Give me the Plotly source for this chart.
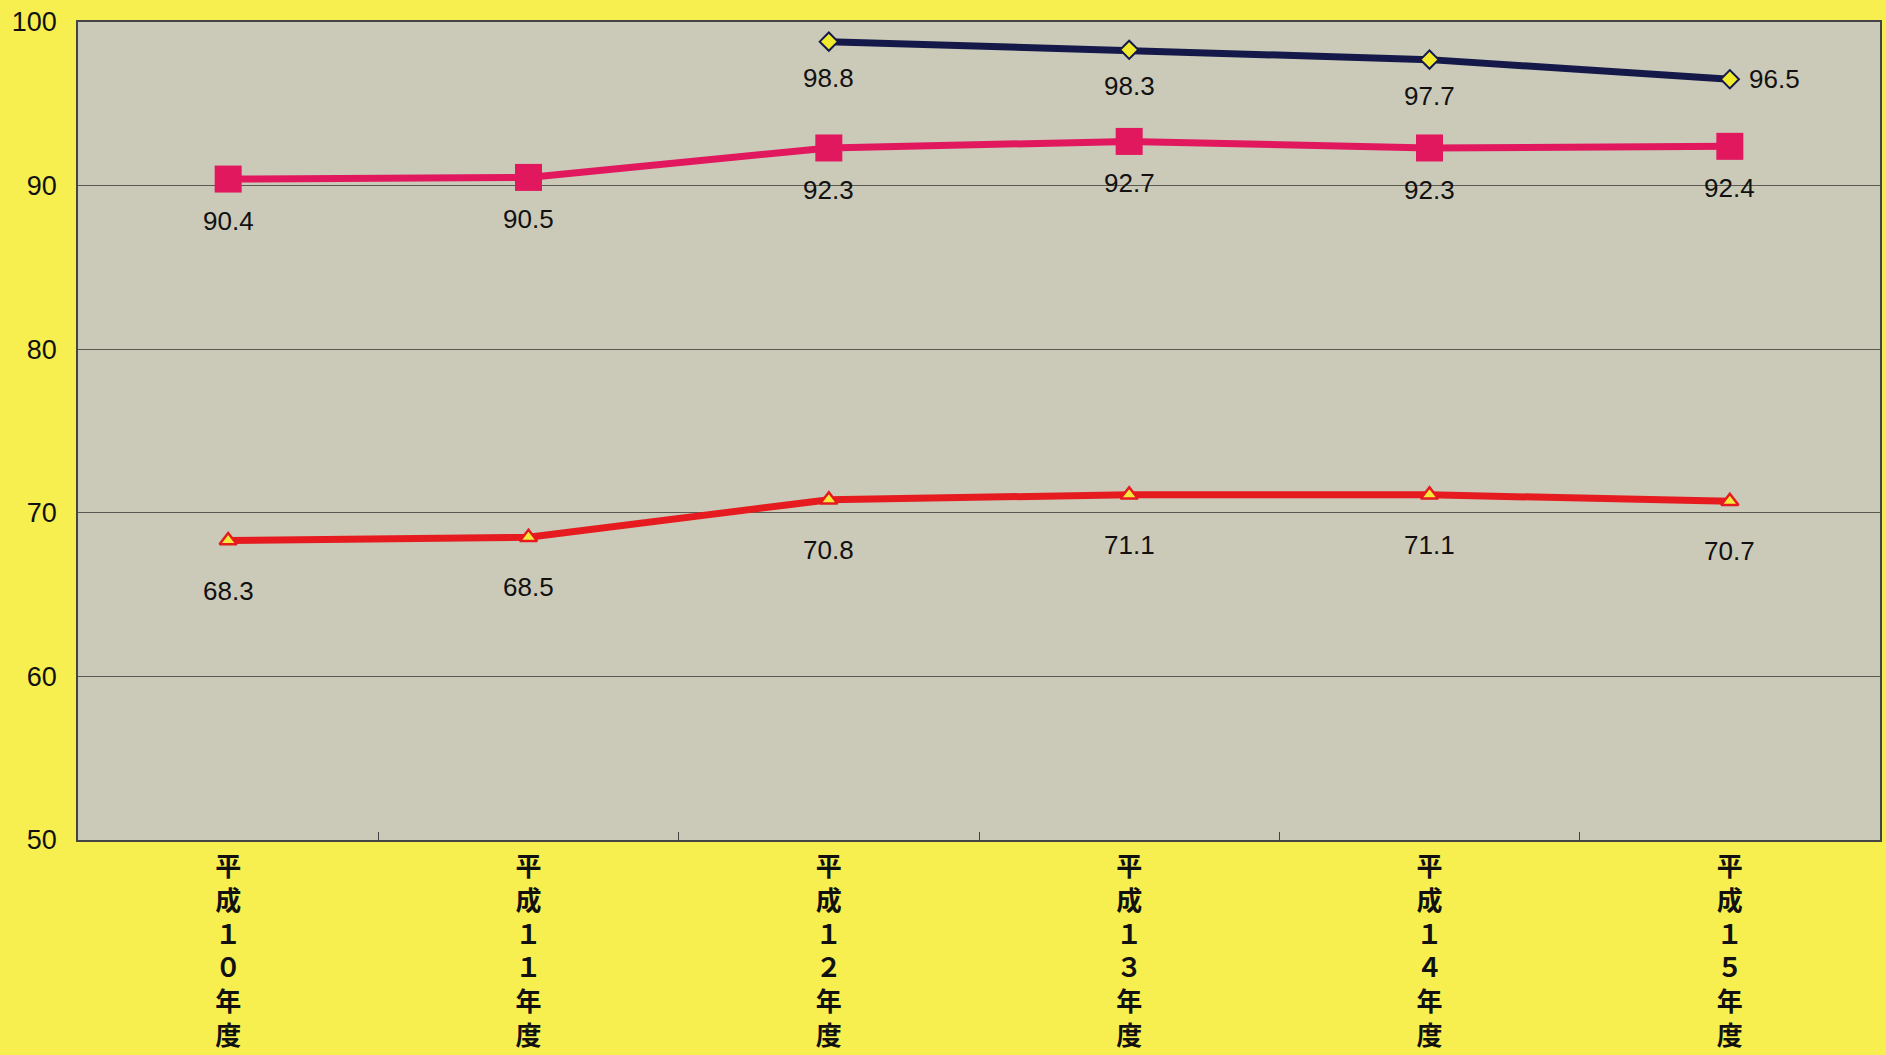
import plotly.graph_objects as go

categories = ["平成１０年度", "平成１１年度", "平成１２年度", "平成１３年度", "平成１４年度", "平成１５年度"]
navy_values = [None, None, 98.8, 98.3, 97.7, 96.5]
pink_values = [90.4, 90.5, 92.3, 92.7, 92.3, 92.4]
red_values = [68.3, 68.5, 70.8, 71.1, 71.1, 70.7]
y_ticks = [50, 60, 70, 80, 90, 100]

tick_text = ["<br>".join(list(c)) for c in categories]

fig = go.Figure()

fig.add_trace(go.Scatter(
    x=categories, y=red_values, mode="lines+markers",
    line=dict(color="#e51b1f", width=7),
    marker=dict(symbol="triangle-up", size=15, color="#f6e93a",
                line=dict(color="#e51b1f", width=2.5)),
    showlegend=False, hoverinfo="skip"))
fig.add_trace(go.Scatter(
    x=categories, y=pink_values, mode="lines+markers",
    line=dict(color="#e2185f", width=7),
    marker=dict(symbol="square", size=27, color="#e2185f"),
    showlegend=False, hoverinfo="skip"))
fig.add_trace(go.Scatter(
    x=categories, y=navy_values, mode="lines+markers",
    line=dict(color="#14194a", width=7),
    marker=dict(symbol="diamond", size=14, color="#f2ea2c",
                line=dict(color="#14194a", width=2)),
    showlegend=False, hoverinfo="skip", connectgaps=False))

label_font = dict(family="Liberation Sans, Arial, sans-serif", size=26, color="#111111")

def add_labels(values, yshift, last_right=False):
    for i, (c, v) in enumerate(zip(categories, values)):
        if v is None:
            continue
        if last_right and i == len(values) - 1:
            fig.add_annotation(x=c, y=v, text=f"{v:.1f}", showarrow=False,
                               xshift=45, yshift=0, font=label_font)
        else:
            fig.add_annotation(x=c, y=v, text=f"{v:.1f}", showarrow=False,
                               yshift=yshift, font=label_font)

add_labels(navy_values, -36, last_right=True)
add_labels(pink_values, -42)
add_labels(red_values, -50)

fig.update_layout(
    width=1886, height=1055,
    margin=dict(l=78, r=6, t=22, b=215),
    paper_bgcolor="#f7ef50",
    plot_bgcolor="#cbc9b7",
    showlegend=False,
)
fig.update_xaxes(
    type="category", categoryorder="array", categoryarray=categories,
    range=[-0.5, 5.5], automargin=False,
    tickvals=categories, ticktext=tick_text,
    tickson="boundaries", ticks="inside", ticklen=8, tickcolor="#444444",
    showgrid=False, showline=True, linecolor="#444444", linewidth=1.5, mirror=True,
    ticklabelstandoff=3,
    tickfont=dict(family="Noto Sans CJK JP, sans-serif", size=26, color="#111111", weight=600),
)
fig.update_yaxes(
    range=[50, 100], tickvals=y_ticks, ticktext=[str(t) for t in y_ticks],
    showgrid=True, gridcolor="#5a5a52", gridwidth=1, zeroline=False,
    showline=True, linecolor="#444444", linewidth=1.5, mirror=True,
    ticks="", ticklabelstandoff=14, automargin=False,
    tickfont=dict(family="Liberation Sans, Arial, sans-serif", size=27, color="#111111"),
)

fig.write_html("out.html", config={"displayModeBar": False},
               post_script="document.body.style.margin='0';document.body.style.overflow='hidden';")
